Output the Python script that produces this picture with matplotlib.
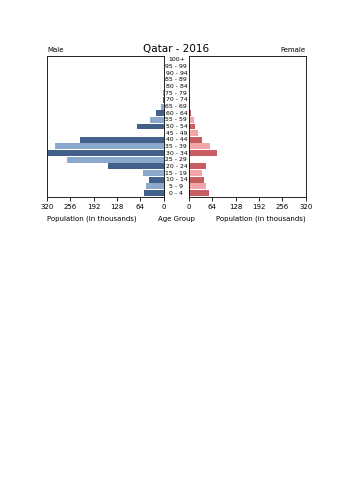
import matplotlib.pyplot as plt
import numpy as np

plt.rcParams['font.family'] = 'DejaVu Sans'

ages = ['0 - 4', '5 - 9', '10 - 14', '15 - 19', '20 - 24', '25 - 29', '30 - 34',
        '35 - 39', '40 - 44', '45 - 49', '50 - 54', '55 - 59', '60 - 64',
        '65 - 69', '70 - 74', '75 - 79', '80 - 84', '85 - 89', '90 - 94',
        '95 - 99', '100+']
male = [55, 50, 41, 56, 152, 264, 317, 299, 230, 0, 73, 39, 20, 9, 3, 1, 0.5, 0.3, 0.2, 0.1, 0]
female = [55, 48, 41, 36, 46, 0, 77, 58, 37, 24, 17, 13, 7, 4, 3, 1, 0.5, 0.3, 0.2, 0.1, 0]
ticks = [0, 64, 128, 192, 256, 320]

m_cols = ['#41608a' if i % 2 == 0 else '#8aa9cc' for i in range(len(ages))]
f_cols = ['#c95d62' if i % 2 == 0 else '#f2a6aa' for i in range(len(ages))]

fig = plt.figure(figsize=(3.53, 5), dpi=100)
axL = fig.add_axes([0.133, 0.606, 0.331, 0.282])
axR = fig.add_axes([0.535, 0.606, 0.331, 0.282])

y = np.arange(len(ages))
axL.barh(y, male, height=0.9, color=m_cols, edgecolor='none')
axR.barh(y, female, height=0.9, color=f_cols, edgecolor='none')

for ax in (axL, axR):
    ax.set_ylim(-0.6, len(ages) - 0.4)
    ax.set_xlim(0, 320)
    ax.set_xticks(ticks)
    ax.set_xticklabels([str(t) for t in ticks], fontsize=5)
    ax.set_yticks([])
    ax.tick_params(axis='x', length=3, width=0.6, pad=2)
    for sp in ax.spines.values():
        sp.set_linewidth(0.6)
axL.invert_xaxis()

for i, a in enumerate(ages):
    fig.text(0.4995, 0.606 + 0.282 * (i + 0.6) / (len(ages) + 0.2), a,
             ha='center', va='center', fontsize=4.4)

fig.text(0.133, 0.9, 'Male', ha='left', va='center', fontsize=5)
fig.text(0.5, 0.902, 'Qatar - 2016', ha='center', va='center', fontsize=7.5)
fig.text(0.866, 0.9, 'Female', ha='right', va='center', fontsize=5)
fig.text(0.133, 0.563, 'Population (in thousands)', ha='left', va='center', fontsize=5)
fig.text(0.5, 0.563, 'Age Group', ha='center', va='center', fontsize=5)
fig.text(0.866, 0.563, 'Population (in thousands)', ha='right', va='center', fontsize=5)

fig.savefig('out.png', dpi=100)
